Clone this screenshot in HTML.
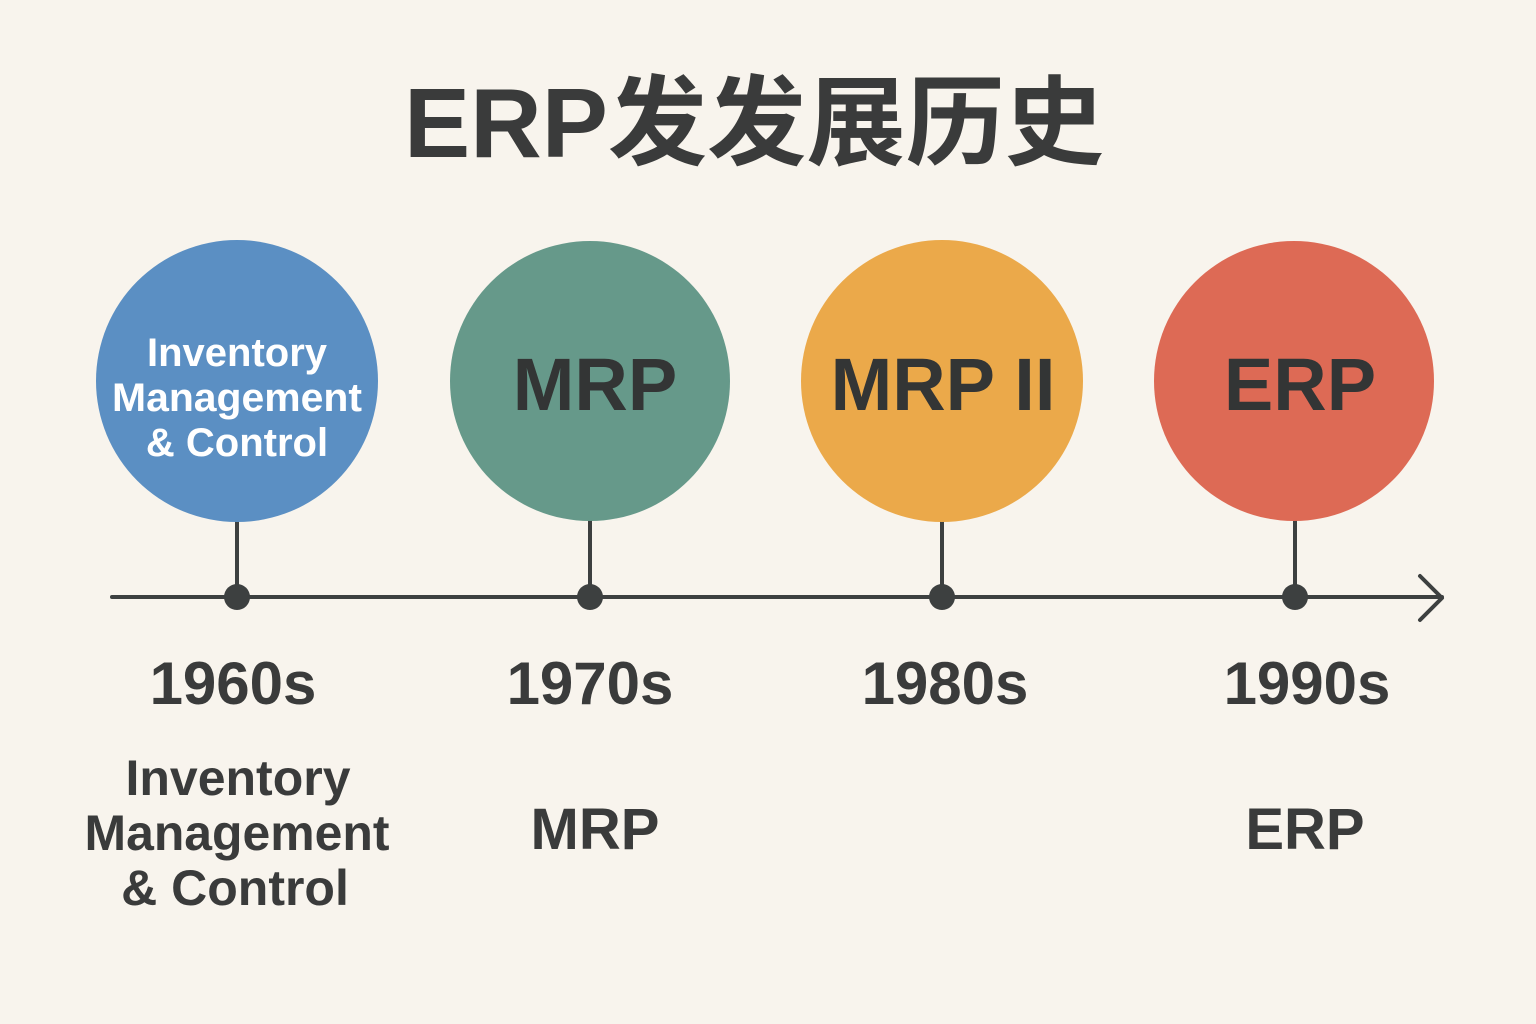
<!DOCTYPE html>
<html><head><meta charset="utf-8"><style>
html,body{margin:0;padding:0;background:#f8f4ed;}
svg{display:block}
text{font-family:"Liberation Sans","Noto Sans CJK SC",sans-serif;}
</style></head><body>
<svg width="1536" height="1024" viewBox="0 0 1536 1024" xmlns="http://www.w3.org/2000/svg">
<rect width="1536" height="1024" fill="#f8f4ed"/>
<text x="754" y="157" text-anchor="middle" font-size="98" font-weight="bold" fill="#3a3b3b" textLength="700" lengthAdjust="spacingAndGlyphs">ERP发发展历史</text>
<line x1="112" y1="597" x2="1442" y2="597" stroke="#3d4040" stroke-width="4" stroke-linecap="round"/>
<polyline points="1420,576 1442,598 1420,620" fill="none" stroke="#3d4040" stroke-width="4" stroke-linecap="round" stroke-linejoin="round"/>
<g stroke="#3d4040" stroke-width="4">
<line x1="237" y1="515" x2="237" y2="597"/>
<line x1="590" y1="515" x2="590" y2="597"/>
<line x1="942" y1="515" x2="942" y2="597"/>
<line x1="1295" y1="515" x2="1295" y2="597"/>
</g>
<g fill="#3d4040">
<circle cx="237" cy="597" r="13"/><circle cx="590" cy="597" r="13"/>
<circle cx="942" cy="597" r="13"/><circle cx="1295" cy="597" r="13"/>
</g>
<circle cx="237" cy="381" r="141" fill="#5b8fc3"/>
<circle cx="590" cy="381" r="140" fill="#66998a"/>
<circle cx="942" cy="381" r="141" fill="#eba94a"/>
<circle cx="1294" cy="381" r="140" fill="#dd6a55"/>
<g fill="#ffffff" font-size="40" font-weight="bold" text-anchor="middle">
<text x="237" y="366">Inventory</text>
<text x="237" y="411" textLength="250" lengthAdjust="spacingAndGlyphs">Management</text>
<text x="237" y="456">&amp; Control</text>
</g>
<g fill="#333535" font-size="74" font-weight="bold" text-anchor="middle">
<text x="595" y="410">MRP</text>
<text x="943" y="410">MRP II</text>
<text x="1300" y="410">ERP</text>
</g>
<g fill="#3a3b3b" font-size="60" font-weight="bold" text-anchor="middle">
<text x="233" y="704">1960s</text>
<text x="590" y="704">1970s</text>
<text x="945" y="704">1980s</text>
<text x="1307" y="704">1990s</text>
</g>
<g fill="#3a3b3b" font-size="50" font-weight="bold" text-anchor="middle">
<text x="238" y="795">Inventory</text>
<text x="237" y="850" textLength="305" lengthAdjust="spacingAndGlyphs">Management</text>
<text x="235" y="905">&amp; Control</text>
<text x="595" y="849" font-size="58">MRP</text>
<text x="1305" y="849" font-size="58">ERP</text>
</g>
</svg>
</body></html>
